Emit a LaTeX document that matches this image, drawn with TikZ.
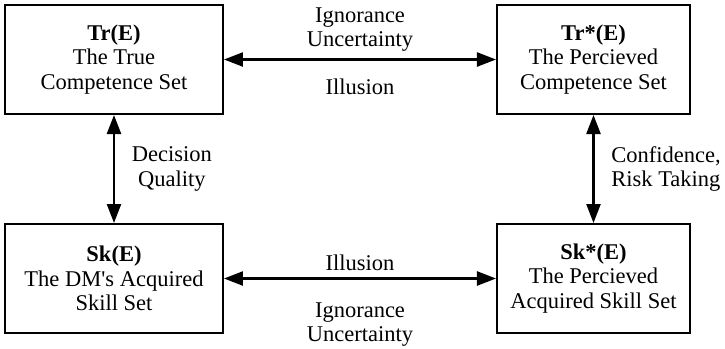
\documentclass[tikz,border=0pt]{standalone}
\usepackage{fontspec}
\setmainfont{Liberation Serif}[Ligatures=TeXOff]
\usetikzlibrary{arrows.meta}
\usetikzlibrary{positioning}
\tikzset{setbox/.style={draw, line width=1pt, align=center, minimum height=54.5pt, inner sep=2pt},
lbl/.style={align=center}
}

\begin{document}
\begin{tikzpicture}[> = {Triangle[length=9.5pt,width=7pt]}, node distance=109.5pt and 239.75pt, on grid,
        font=\fontsize{11.25}{12.25}\selectfont]
            \useasboundingbox (-57pt,29.75pt) rectangle (305.5pt,-144.75pt);
            \node[setbox,minimum width=109pt] (tr) {\textbf{Tr(E)}\\The True\\Competence Set};
            \node[setbox,minimum width=96.5pt] (trs) [right=of tr] {\textbf{Tr*(E)}\\The Percieved\\Competence Set};
            \node[setbox,minimum width=109pt] (sk) [below=of tr] {\textbf{Sk(E)}\\The DM's Acquired\\Skill Set};
            \node[setbox,minimum width=96.5pt] (sks) [below=of trs] {\textbf{Sk*(E)}\\The Percieved\\Acquired Skill Set};
            \path[<->,line width=1.2pt]
                (tr) edge node[lbl,above] {Ignorance\\Uncertainty} node[lbl,below=6pt] {Illusion} (trs)
                (sk) edge node[lbl,above] {Illusion} node[lbl,below=8pt] {Ignorance\\Uncertainty} (sks)
                (tr) edge node[lbl,right=5pt] {Decision\\Quality} (sk)
                (trs) edge node[lbl,align=left,right=5pt] {Confidence,\\Risk Taking} (sks);
        \end{tikzpicture}
\end{document}
